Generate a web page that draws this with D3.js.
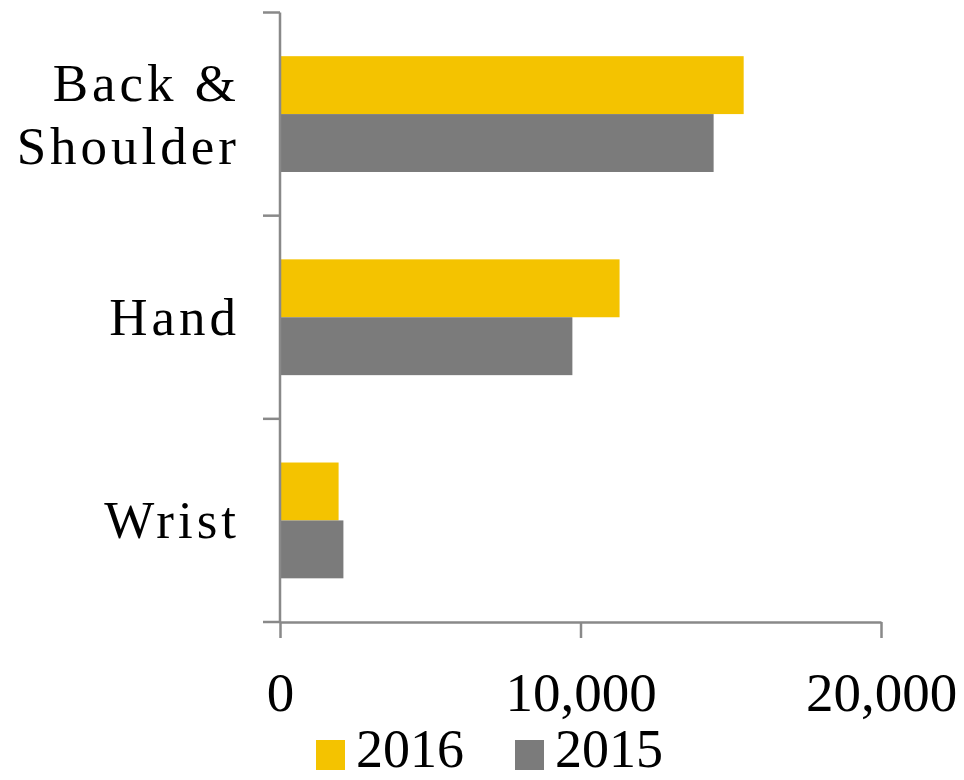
<!DOCTYPE html>
<html>
<head>
<meta charset="utf-8">
<script src="https://cdn.jsdelivr.net/npm/d3@7"></script>
<style>
  body { margin: 0; background: #fff; }
  svg text { font-family: "Liberation Serif", "DejaVu Serif", serif; fill: #000; }
</style>
</head>
<body>
<div id="chart"></div>
<script>
// data
var categories = ["Back & Shoulder", "Hand", "Wrist"];
var labelLines = [["Back &", "Shoulder"], ["Hand"], ["Wrist"]];
var series = ["2016", "2015"];
var values2016 = [15430, 11300, 1950];
var values2015 = [14430, 9730, 2110];
var xTicks = [0, 10000, 20000];

var colors = ["#F4C300", "#7B7B7B"];
var width = 964, height = 780;

var svg = d3.select("#chart").append("svg")
    .attr("width", width)
    .attr("height", height);

var x = d3.scaleLinear().domain([0, 20000]).range([280, 881]);

var y = d3.scaleBand()
    .domain(categories)
    .range([12.5, 622])
    .paddingInner(0.43)
    .paddingOuter(0.215);

var ySub = d3.scaleBand().domain(series).range([0, y.bandwidth()]);

var table = categories.map(function(c, i) {
    return { cat: c, vals: [values2016[i], values2015[i]] };
});

// bars
var groups = svg.selectAll("g.cat")
    .data(table)
    .enter().append("g")
    .attr("class", "cat")
    .attr("transform", d => "translate(0," + y(d.cat) + ")");

groups.selectAll("rect")
    .data(d => d.vals.map((v, j) => ({ s: series[j], v: v, j: j })))
    .enter().append("rect")
    .attr("x", x(0))
    .attr("y", d => ySub(d.s))
    .attr("width", d => x(d.v) - x(0))
    .attr("height", ySub.bandwidth())
    .attr("fill", d => colors[d.j]);

var axisColor = "#898989";
var step = y.step();

// y axis line + boundary ticks
svg.append("line")
    .attr("x1", x(0)).attr("x2", x(0))
    .attr("y1", 12.5).attr("y2", 622)
    .attr("stroke", axisColor).attr("stroke-width", 2.5);

svg.selectAll("line.ytick")
    .data(d3.range(categories.length + 1))
    .enter().append("line")
    .attr("class", "ytick")
    .attr("x1", x(0) - 17).attr("x2", x(0))
    .attr("y1", i => 12.5 + i * step).attr("y2", i => 12.5 + i * step)
    .attr("stroke", axisColor).attr("stroke-width", 2.5);

// x axis
var xAxis = svg.append("g")
    .attr("transform", "translate(0,622)")
    .call(d3.axisBottom(x).tickValues(xTicks).tickSize(16).tickSizeOuter(0)
        .tickFormat(d3.format(",")).tickPadding(34));

xAxis.select(".domain").attr("stroke", axisColor).attr("stroke-width", 2.5);
xAxis.selectAll(".tick line").attr("stroke", axisColor).attr("stroke-width", 2.5);
xAxis.selectAll(".tick text")
    .attr("font-size", 55)
    .attr("font-family", "Liberation Serif")
    .attr("fill", "#000");

// category labels
var lab = svg.selectAll("text.cat")
    .data(table)
    .enter().append("text")
    .attr("class", "cat")
    .attr("text-anchor", "end")
    .attr("font-size", 53)
    .attr("letter-spacing", 4)
    .attr("y", d => y(d.cat) + y.bandwidth() / 2);

lab.each(function(d, i) {
    var lines = labelLines[i];
    var t = d3.select(this);
    var off = -(lines.length - 1) * 63 / 2 + 18;
    lines.forEach(function(line, k) {
        t.append("tspan")
            .attr("x", 240)
            .attr("dy", k === 0 ? off : 63)
            .text(line);
    });
});

// legend
var legend = svg.append("g").attr("class", "legend");
var legX = [316, 515];
series.forEach(function(s, j) {
    legend.append("rect")
        .attr("x", legX[j]).attr("y", 740)
        .attr("width", 29).attr("height", 30)
        .attr("fill", colors[j]);
    legend.append("text")
        .attr("x", legX[j] + 40).attr("y", 767)
        .attr("font-size", 54)
        .text(s);
});
</script>
</body>
</html>
